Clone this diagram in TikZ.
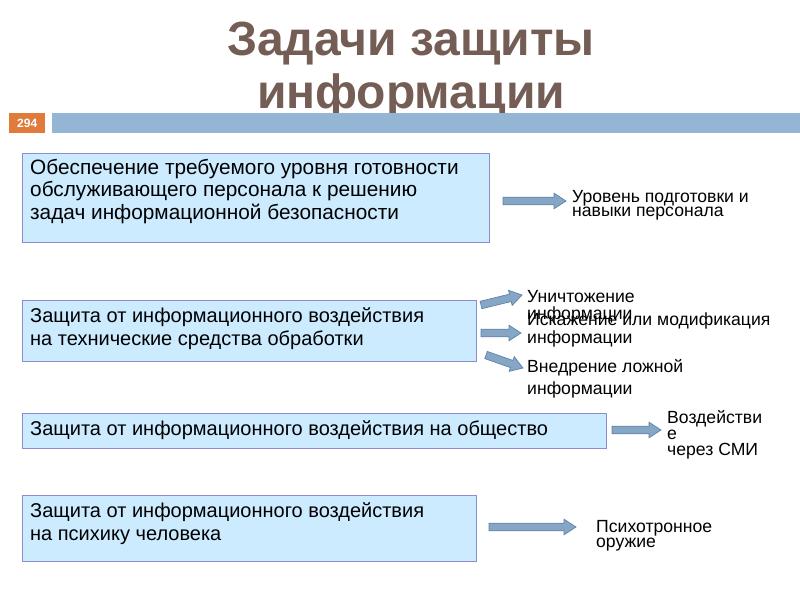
\documentclass[tikz,border=0pt]{standalone}
\usepackage{fontspec}
\setmainfont{Liberation Sans}
\usetikzlibrary{calc}
\definecolor{titlecol}{HTML}{745D55}
\definecolor{barblue}{HTML}{94B5D3}
\definecolor{numorange}{HTML}{E07B3C}
\definecolor{boxfill}{HTML}{CCEBFF}
\definecolor{boxdraw}{HTML}{8C8CD0}
\definecolor{arrfill}{HTML}{86A6C6}
\definecolor{arrdraw}{HTML}{5F83A8}
\tikzset{
  tbox/.style={draw=boxdraw, fill=boxfill, line width=1pt, anchor=north west, inner sep=0pt},
  btext/.style={anchor=base west, align=left, inner sep=0pt, font=\fontsize{20}{22.7}\selectfont},
  rtext/.style={anchor=base west, align=left, inner sep=0pt},
  barrowstyle/.style={fill=arrfill, draw=arrdraw, line width=0.7pt, line join=miter},
}
\newcommand\blockarrow[2]{%
  \coordinate (hh) at ($(#2)!12pt!(#1)$);
  \path[barrowstyle] ($(#1)!3.8pt!90:(#2)$) -- ($(hh)!3.8pt!-90:(#1)$) -- ($(hh)!7.8pt!-90:(#1)$)
     -- (#2) -- ($(hh)!7.8pt!90:(#1)$) -- ($(hh)!3.8pt!90:(#1)$) -- ($(#1)!3.8pt!-90:(#2)$) -- cycle;
}
\begin{document}
\begin{tikzpicture}[x=1pt,y=-1pt]
\useasboundingbox (0,0) rectangle (800,600);
% title
\node[anchor=base, inner sep=0pt, text=titlecol, font=\bfseries\fontsize{48}{53}\selectfont, align=center] (title) at (411,108) {Задачи защиты\\информации};
% bar
\node[fill=numorange, minimum width=36pt, minimum height=20pt, anchor=north west, inner sep=0pt, text=white, font=\bfseries\fontsize{12}{14}\selectfont] (num) at (9,113) {294};
\node[fill=barblue, minimum width=748pt, minimum height=20pt, anchor=north west, inner sep=0pt] (bar) at (52,113) {};
% boxes
\node[tbox, minimum width=467pt, minimum height=89pt] (b1) at (21.5,153) {};
\node[btext, font=\fontsize{20.8}{22.7}\selectfont] (t1) at (30,219.5) {Обеспечение требуемого уровня готовности\\обслуживающего персонала к решению\\задач информационной безопасности};
\node[tbox, minimum width=454pt, minimum height=61pt] (b2) at (21.5,300) {};
\node[btext] (t2) at (30,345.5) {Защита от информационного воздействия\\на технические средства обработки};
\node[tbox, minimum width=584pt, minimum height=35pt] (b3) at (21.5,413) {};
\node[btext] (t3) at (30,435.5) {Защита от информационного воздействия на общество};
\node[tbox, minimum width=454pt, minimum height=66pt] (b4) at (21.5,495) {};
\node[btext] (t4) at (30,540.5) {Защита от информационного воздействия\\на психику человека};
% arrows
\coordinate (a1s) at (503,201); \coordinate (a1e) at (566,201);
\blockarrow{a1s}{a1e}
\coordinate (a2s) at (481,305); \coordinate (a2e) at (522,295);
\blockarrow{a2s}{a2e}
\coordinate (a3s) at (481,333); \coordinate (a3e) at (521,333);
\blockarrow{a3s}{a3e}
\coordinate (a4s) at (486,355); \coordinate (a4e) at (523,368);
\blockarrow{a4s}{a4e}
\coordinate (a5s) at (612,430); \coordinate (a5e) at (661,430);
\blockarrow{a5s}{a5e}
\coordinate (a6s) at (489,527); \coordinate (a6e) at (576,527);
\blockarrow{a6s}{a6e}
% right texts
\node[rtext, font=\fontsize{17.6}{14.5}\selectfont] (r1) at (572,216.5) {Уровень подготовки и\\навыки персонала};
\node[rtext, font=\fontsize{17.6}{17}\selectfont] (r2) at (527,319) {Уничтожение\\информации};
\node[rtext, font=\fontsize{17.6}{18}\selectfont] (r3) at (527,343) {Искажение или модификация\\информации};
\node[rtext, font=\fontsize{17.6}{21.5}\selectfont] (r4) at (527,394) {Внедрение ложной\\информации};
\node[rtext, font=\fontsize{17.6}{16}\selectfont] (r5) at (667,455.5) {Воздействи\\е\\через СМИ};
\node[rtext, font=\fontsize{17.6}{15}\selectfont] (r6) at (596,547) {Психотронное\\оружие};
\end{tikzpicture}
\end{document}
